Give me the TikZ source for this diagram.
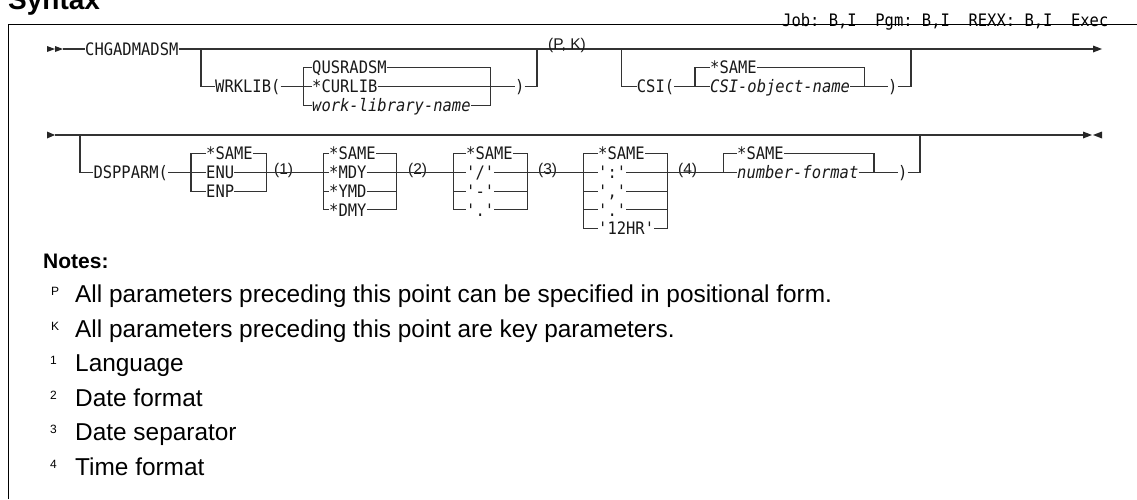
\documentclass[tikz,border=0pt]{standalone}
\usepackage{fontspec}
\setmainfont{Liberation Sans}
\setmonofont{DejaVu Sans Mono}[FakeStretch=0.9]
\begin{document}
\begin{tikzpicture}[x=1pt,y=-1pt,
  rail/.style={draw=black!80, line width=1.1pt},
  frameline/.style={draw=black, line width=1.4pt},
  kw/.style={font=\ttfamily\fontsize{17.2}{20}\selectfont, inner sep=0pt, text height=12.4pt, text depth=0pt, anchor=west, text=black!90},
  var/.style={kw, font=\ttfamily\itshape\fontsize{17.2}{20}\selectfont},
  lbl/.style={font=\fontsize{15.5}{18}\selectfont, inner sep=0pt, anchor=base west, text=black!90},
  tipfill/.style={fill=black!85},
  notetext/.style={font=\fontsize{24.4}{28}\selectfont, inner sep=0pt, anchor=base west},
  notemark/.style={font=\fontsize{12}{14}\selectfont, inner sep=0pt, anchor=base west},
]
\useasboundingbox (0,0) rectangle (1137,499);
% frame and header
\node[font=\bfseries\fontsize{28}{32}\selectfont, inner sep=0pt, anchor=base west] (title) at (8,9) {Syntax};
\coordinate (fTL) at (8.3,24.3);
\coordinate (fTR) at (1137,24.3);
\coordinate (fBL) at (8.3,499);
\draw[frameline] (fBL) -- (fTL) -- (fTR);
\node[font=\ttfamily\fontsize{17.2}{20}\selectfont, inner sep=0pt, anchor=base west] (hdr) at (782,26) {Job: B,I\ \ Pgm: B,I\ \ REXX: B,I\ \ Exec};

% ---------------- Row 1 ----------------
\fill[tipfill] (47,46) -- (47,52) -- (55,49) -- cycle;
\fill[tipfill] (55,46) -- (55,52) -- (63,49) -- cycle;
\coordinate (r1s) at (63,49);
\node[kw] (cmd) at (85,49) {CHGADMADSM};
\coordinate (r1e) at (1093,49);
\draw[rail] (r1s) -- (cmd.west);
\draw[rail] (cmd.east) -- (r1e);
\fill[tipfill] (1093,45.5) -- (1093,52.5) -- (1102,49) -- cycle;

% WRKLIB
\coordinate (wA) at (201,49);
\node[kw] (wrk) at (215,86.4) {WRKLIB(};
\draw[rail] (wA) |- (wrk.west);
\node[kw] (wq) at (312,67.7) {QUSRADSM};
\node[kw] (wc) at (312,86.4) {*CURLIB};
\node[var] (wl) at (312,105.1) {work-library-name};
\coordinate (wL) at (303.3,67.7);
\coordinate (wR) at (490.7,67.7);
\draw[rail] (wq.west) -- (wL) -- (wL |- wl.west) -- (wl.west);
\draw[rail] (wq.east) -- (wR) -- (wR |- wl.east) -- (wl.east);
\draw[rail] (wrk.east) -- (wc.west);
\node[kw] (wp) at (515,86.4) {)};
\draw[rail] (wc.east) -- (wp.west);
\coordinate (wB) at (537,49);
\draw[rail] (wp.east) -| (wB);
\node[lbl] (pk) at (548,49.3) {(P, K)};

% CSI
\coordinate (cA) at (621.7,49);
\node[kw] (csi) at (636.7,86.4) {CSI(};
\draw[rail] (cA) |- (csi.west);
\node[kw] (cs) at (710,67.7) {*SAME};
\node[var] (cn) at (710,86.4) {CSI-object-name};
\coordinate (cL) at (695,67.7);
\coordinate (cR) at (864.3,67.7);
\draw[rail] (cs.west) -- (cL) -- (cL |- cn.west);
\draw[rail] (cs.east) -- (cR) -- (cR |- cn.east);
\draw[rail] (csi.east) -- (cn.west);
\node[kw] (cp) at (888,86.4) {)};
\draw[rail] (cn.east) -- (cp.west);
\coordinate (cB) at (911,49);
\draw[rail] (cp.east) -| (cB);

% ---------------- Row 2 ----------------
\fill[tipfill] (47,131.5) -- (47,138.5) -- (55,135) -- cycle;
\coordinate (r2s) at (55,135);
\coordinate (r2e) at (1083,135);
\draw[rail] (r2s) -- (r2e);
\fill[tipfill] (1083,131.5) -- (1083,138.5) -- (1092,135) -- cycle;
\fill[tipfill] (1102,131.5) -- (1102,138.5) -- (1093,135) -- cycle;

\coordinate (dA) at (80,135);
\node[kw] (dsp) at (93.3,172.4) {DSPPARM(};
\draw[rail] (dA) |- (dsp.west);

% choice A
\node[kw] (a1) at (206,153.7) {*SAME};
\node[kw] (a2) at (206,172.4) {ENU};
\node[kw] (a3) at (206,191.1) {ENP};
\coordinate (aL) at (191,153.7);
\coordinate (aR) at (266.7,153.7);
\draw[rail] (a1.west) -- (aL) -- (aL |- a3.west) -- (a3.west);
\draw[rail] (a1.east) -- (aR) -- (aR |- a3.east) -- (a3.east);
\draw[rail] (dsp.east) -- (a2.west);
\node[lbl] (n1) at (274,174) {(1)};

% choice B
\node[kw] (b1) at (329,153.7) {*SAME};
\node[kw] (b2) at (329,172.4) {*MDY};
\node[kw] (b3) at (329,191.1) {*YMD};
\node[kw] (b4) at (329,209.8) {*DMY};
\coordinate (bL) at (323.3,153.7);
\coordinate (bR) at (396.7,153.7);
\draw[rail] (b1.west) -- (bL) -- (bL |- b4.west) -- (b4.west);
\draw[rail] (b1.east) -- (bR) -- (bR |- b4.east) -- (b4.east);
\draw[rail] (bL |- b3.west) -- (b3.west) (b3.east) -- (bR |- b3.east);
\draw[rail] (a2.east) -- (b2.west);
\node[lbl] (n2) at (408,174) {(2)};

% choice C
\node[kw] (c1) at (466,153.7) {*SAME};
\node[kw] (c2) at (466,172.4) {'/'};
\node[kw] (c3) at (466,191.1) {'-'};
\node[kw] (c4) at (466,209.8) {'.'};
\coordinate (xL) at (453.3,153.7);
\coordinate (xR) at (527.7,153.7);
\draw[rail] (c1.west) -- (xL) -- (xL |- c4.west) -- (c4.west);
\draw[rail] (c1.east) -- (xR) -- (xR |- c4.east) -- (c4.east);
\draw[rail] (xL |- c3.west) -- (c3.west) (c3.east) -- (xR |- c3.east);
\draw[rail] (b2.east) -- (c2.west);
\node[lbl] (n3) at (538,174) {(3)};

% choice D
\node[kw] (d1) at (598,153.7) {*SAME};
\node[kw] (d2) at (598,172.4) {':'};
\node[kw] (d3) at (598,191.1) {','};
\node[kw] (d4) at (598,209.8) {'.'};
\node[kw] (d5) at (598,228.5) {'12HR'};
\coordinate (yL) at (583.3,153.7);
\coordinate (yR) at (667.7,153.7);
\draw[rail] (d1.west) -- (yL) -- (yL |- d5.west) -- (d5.west);
\draw[rail] (d1.east) -- (yR) -- (yR |- d5.east) -- (d5.east);
\draw[rail] (yL |- d3.west) -- (d3.west) (d3.east) -- (yR |- d3.east);
\draw[rail] (yL |- d4.west) -- (d4.west) (d4.east) -- (yR |- d4.east);
\draw[rail] (c2.east) -- (d2.west);
\node[lbl] (n4) at (678,174) {(4)};

% choice E
\node[kw] (e1) at (737,153.7) {*SAME};
\node[var] (e2) at (737,172.4) {number-format};
\coordinate (eL) at (723.3,153.7);
\coordinate (eR) at (874,153.7);
\draw[rail] (e1.west) -- (eL) -- (eL |- e2.west);
\draw[rail] (e1.east) -- (eR) -- (eR |- e2.east);
\draw[rail] (d2.east) -- (e2.west);
\node[kw] (ep) at (898,172.4) {)};
\draw[rail] (e2.east) -- (ep.west);
\coordinate (dB) at (920,135);
\draw[rail] (ep.east) -| (dB);

% ---------------- Notes ----------------
\node[font=\bfseries\fontsize{21}{25}\selectfont, inner sep=0pt, anchor=base west] (notes) at (43,268) {Notes:};
\node[notemark] (mP) at (51,295.5) {P};
\node[notetext] (tP) at (75,302.5) {All parameters preceding this point can be specified in positional form.};
\node[notemark] (mK) at (51,330) {K};
\node[notetext] (tK) at (75,337) {All parameters preceding this point are key parameters.};
\node[notemark] (m1) at (50,364.5) {1};
\node[notetext] (t1) at (75,371.5) {Language};
\node[notemark] (m2) at (50,399) {2};
\node[notetext] (t2) at (75,406) {Date format};
\node[notemark] (m3) at (50,433.5) {3};
\node[notetext] (t3) at (75,440.5) {Date separator};
\node[notemark] (m4) at (50,468) {4};
\node[notetext] (t4) at (75,475) {Time format};
\end{tikzpicture}
\end{document}
